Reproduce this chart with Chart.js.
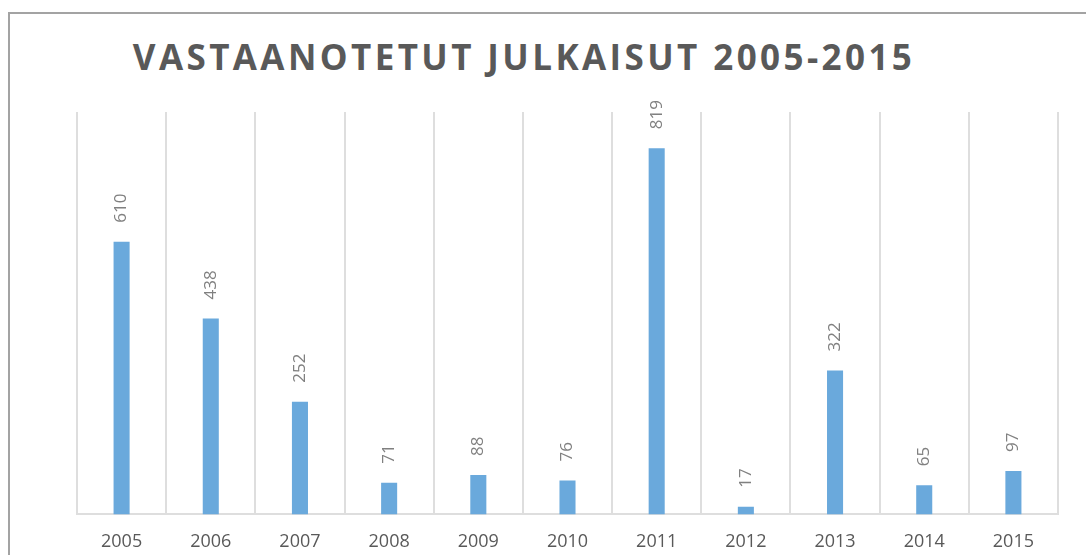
<!DOCTYPE html>
<html>
<head>
<meta charset="utf-8">
<script src="https://cdn.jsdelivr.net/npm/chart.js@4.4.1/dist/chart.umd.min.js"></script>
<style>
  html, body { margin: 0; padding: 0; background: #fff; overflow: hidden; }
  #wrap { position: relative; width: 1086px; height: 555px; overflow: hidden; }
  #frame {
    position: absolute; left: 8px; top: 12px; width: 1200px; height: 700px;
    border: 2px solid #a3a3a3; box-sizing: border-box;
  }
  #title {
    position: absolute; left: 0; top: 32px; width: 1048px; text-align: center;
    font-family: "Open Sans", sans-serif; font-weight: bold; font-size: 35px;
    letter-spacing: 3.4px; color: #595959; line-height: 50px; white-space: nowrap;
  }
  canvas { position: absolute; left: 0; top: 0; }
</style>
</head>
<body>
<div id="wrap">
  <div id="frame"></div>
  <div id="title">VASTAANOTETUT JULKAISUT 2005-2015</div>
  <canvas id="chart" width="1086" height="570"></canvas>
</div>
<script>
const years = ['2005', '2006', '2007', '2008', '2009', '2010', '2011', '2012', '2013', '2014', '2015'];
const received = [610, 438, 252, 71, 88, 76, 819, 17, 322, 65, 97];

// rotated value labels above each bar
const barLabels = {
    id: 'barLabels',
    afterDatasetsDraw(chart) {
        const ctx = chart.ctx;
        const meta = chart.getDatasetMeta(0);
        ctx.save();
        ctx.font = '17px "Open Sans", sans-serif';
        ctx.fillStyle = '#808080';
        ctx.textAlign = 'left';
        ctx.textBaseline = 'middle';
        meta.data.forEach((bar, i) => {
            ctx.save();
            ctx.translate(bar.x, bar.y - 19);
            ctx.rotate(-Math.PI / 2);
            ctx.fillText(String(received[i]), 0, 0);
            ctx.restore();
        });
        ctx.restore();
    }
};

new Chart(document.getElementById('chart').getContext('2d'), {
    type: 'bar',
    data: {
        labels: years,
        datasets: [{
            data: received,
            backgroundColor: '#6aa9dc',
            barPercentage: 0.18,
            categoryPercentage: 1
        }]
    },
    options: {
        responsive: false,
        animation: false,
        layout: { padding: { left: 77, right: 28, top: 112, bottom: 0 } },
        plugins: { legend: { display: false }, tooltip: { enabled: false } },
        scales: {
            x: {
                grid: { color: '#dedede', lineWidth: 2, drawTicks: false, offset: true },
                border: { color: '#dedede', width: 2 },
                ticks: {
                    color: '#595959', padding: 17,
                    font: { family: '"Open Sans", sans-serif', size: 18 }
                }
            },
            y: {
                display: false,
                min: 0,
                max: 900
            }
        }
    },
    plugins: [barLabels]
});
</script>
</body>
</html>
